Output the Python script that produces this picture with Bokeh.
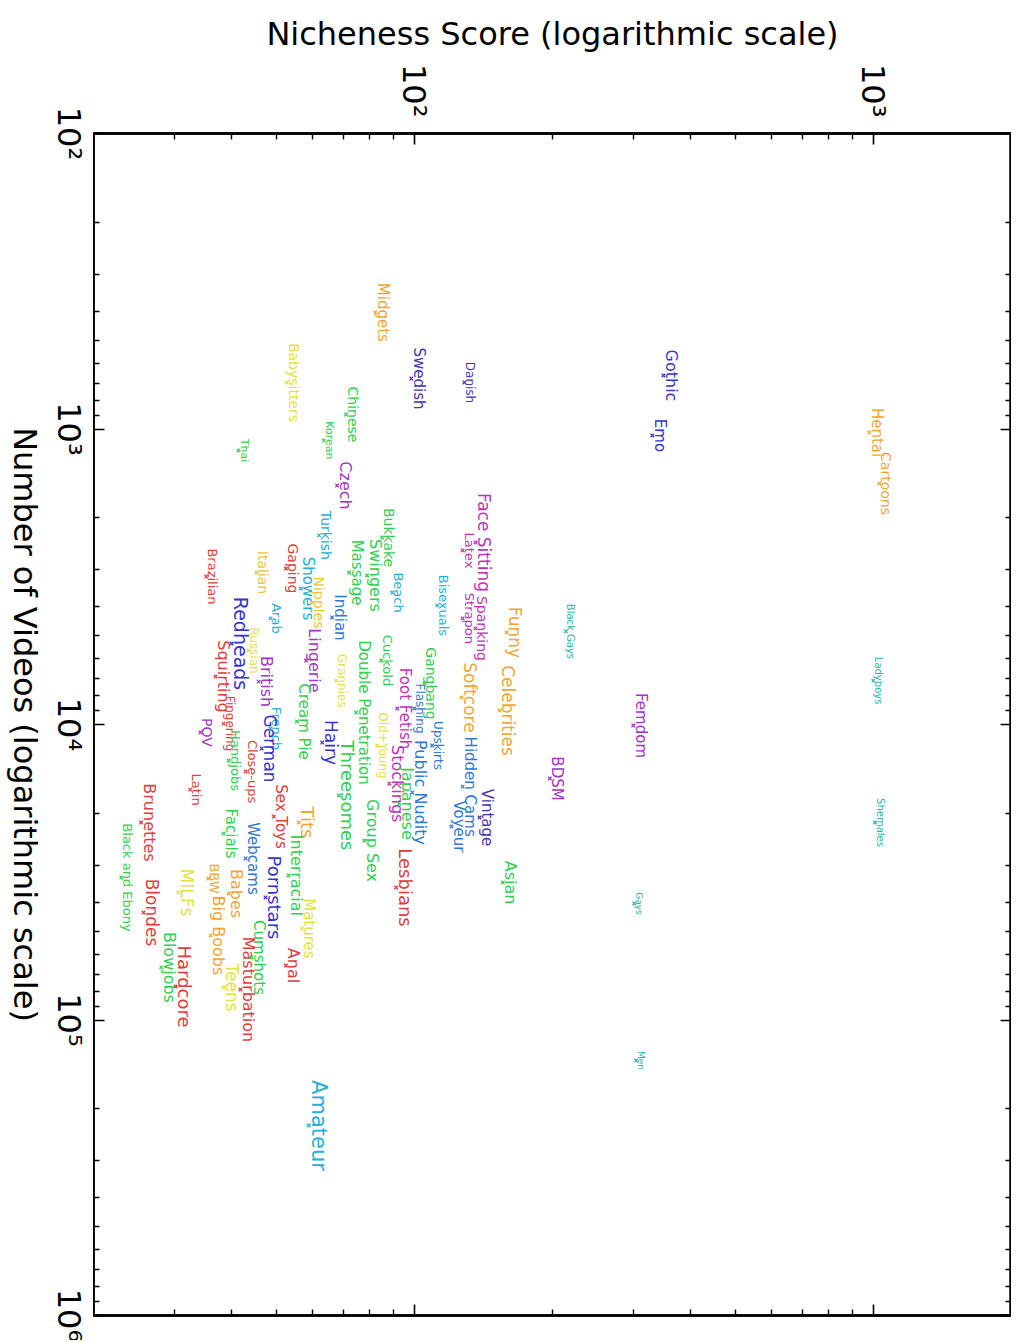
import math
from bokeh.plotting import figure
from bokeh.layouts import row
from bokeh.models import ColumnDataSource, Range1d, LogAxis, FixedTicker, CustomJSTickFormatter
from bokeh.core.properties import value
from bokeh.embed import file_html
from bokeh.resources import INLINE

# ---------------- data ----------------
categories = ["Hentai", "Cartoons", "Ladyboys", "Shemales", "Gothic", "Emo", "Danish", "Swedish",
              "Midgets", "Babysitters", "Chinese", "Korean", "Thai", "Czech", "Turkish", "Bukkake",
              "Gaping", "Italian", "Brazilian", "Showers", "Nipples", "Arab", "Redheads", "Lingerie",
              "Russian", "British", "Cream Pie", "Squirting", "French", "Fingering", "German", "Hairy",
              "POV", "Handjobs", "Close-ups", "Latin", "Sex Toys", "Tits", "Interracial", "Facials",
              "Webcams", "Pornstars", "Brunettes", "Black and Ebony", "Blondes", "BBW", "Big Boobs", "Babes",
              "MILFs", "Cumshots", "Masturbation", "Matures", "Anal", "Teens", "Blowjobs", "Hardcore",
              "Face Sitting", "Spanking", "Latex", "Strapon", "Bisexuals", "Beach", "Swingers", "Massage",
              "Indian", "Cuckold", "Double Penetration", "Grannies", "Gangbang", "Flashing", "Public Nudity", "Softcore",
              "Funny", "Celebrities", "Foot Fetish", "Old+Young", "Upskirts", "Hidden Cams", "Threesomes", "Stockings",
              "Japanese", "Vintage", "Voyeur", "Group Sex", "Lesbians", "Asian", "BDSM", "Femdom",
              "Black Gays", "Gays", "Men", "Amateur"]

nicheness = [980, 1031, 1000, 1009, 349, 330, 128.6, 98.5,
             82.2, 52.7, 71.0, 63.5, 41.4, 67.9, 62.0, 85.1,
             52.5, 45.3, 35.2, 56.6, 59.8, 48.6, 40.0, 58.1,
             43.5, 45.8, 55.5, 36.9, 48.6, 38.4, 46.5, 63.0,
             34.2, 39.4, 42.9, 32.5, 49.4, 56.0, 53.2, 38.4,
             42.9, 47.4, 25.4, 23.0, 25.7, 35.6, 36.0, 39.4,
             30.6, 44.2, 41.8, 56.9, 52.5, 38.4, 28.1, 30.2,
             135.9, 135.9, 127.4, 127.4, 112.2, 89.5, 78.9, 72.1,
             66.2, 84.7, 74.7, 67.5, 105.2, 100.0, 99.0, 126.7,
             158.9, 153.5, 91.8, 83.0, 109.4, 127.4, 68.5, 88.2,
             92.7, 138.7, 120.5, 77.8, 91.3, 155.9, 197.3, 300.0,
             213.9, 301.5, 304.5, 58.9]

videos = [1028, 1529, 7103, 21460, 659, 1052, 696, 675,
          403, 696, 893, 1093, 1183, 1553, 2291, 2330,
          2965, 3060, 3155, 3465, 3864, 4375, 5321, 6072,
          5620, 7160, 9770, 6880, 10320, 9930, 12060, 11510,
          10640, 13240, 14430, 16610, 20480, 21460, 32420, 23390,
          28400, 38480, 21460, 32940, 43270, 33200, 51740, 37320,
          37000, 61430, 78830, 48990, 65400, 77630, 66390, 77040,
          2421, 4730, 2576, 4375, 3954, 3577, 3131, 3060,
          4342, 6072, 9105, 7103, 7265, 8829, 16980, 8103,
          4882, 8966, 8829, 11780, 11780, 16230, 17390, 15860,
          18500, 20640, 22140, 24710, 35620, 34260, 15230, 10080,
          4841, 40330, 137100, 227500]

x_major = [100, 1000]
x_minor = [20, 30, 40, 50, 60, 70, 80, 90, 200, 300, 400, 500, 600, 700, 800, 900]
y_major = [1e2, 1e3, 1e4, 1e5, 1e6]
y_minor = [m * 10 ** e for e in range(2, 6) for m in range(2, 10)]
y_tick_labels = ["10\u00b2", "10\u00b3", "10\u2074", "10\u2075", "10\u2076"]
y_title = "Number of Videos (logarithmic scale)"

# ---------------- styles ----------------
OR = "#f2a632"
YO = "#f0c438"
YE = "#e4e23c"
GR = "#2fcf4f"
CY = "#25aed6"
AZ = "#2f78d8"
BL = "#3434cc"
IN = "#4a32b8"
PU = "#a236c4"
MA = "#c131b6"
RE = "#e23c3c"
TE = "#22b8aa"

label_colors = [OR, OR, TE, TE, BL, BL, IN, IN,
                OR, YE, GR, GR, GR, PU, CY, GR,
                RE, YO, RE, CY, YO, CY, BL, PU,
                YE, PU, GR, RE, CY, RE, BL, BL,
                PU, GR, RE, RE, RE, OR, GR, GR,
                AZ, BL, RE, GR, RE, OR, OR, OR,
                YE, GR, RE, YE, RE, YE, GR, RE,
                MA, MA, MA, MA, CY, CY, GR, GR,
                AZ, GR, GR, YE, GR, AZ, AZ, OR,
                OR, OR, MA, YE, AZ, AZ, GR, MA,
                GR, IN, AZ, GR, RE, GR, PU, PU,
                TE, TE, TE, CY]

label_px = [15, 14, 10, 10, 16, 15, 12, 15,
            15, 14, 14, 11, 11, 16, 14, 14,
            14, 14, 13, 15, 14, 13, 19, 16,
            12, 16, 15, 16, 13, 12, 17, 17,
            14, 13, 13, 13, 15, 18, 16, 15,
            15, 18, 16, 13, 17, 13, 16, 16,
            17, 15, 16, 15, 16, 17, 16, 18,
            17, 14, 13, 13, 13, 13, 16, 15,
            15, 13, 15, 12, 14, 12, 16, 17,
            17, 17, 15, 12, 12, 15, 18, 16,
            16, 15, 15, 16, 18, 16, 15, 15,
            10, 9, 9, 21]

FONT = "DejaVu Sans"

# layout (pixels)
H = 1340
LEFT_W = 93
MAIN_W = 918
FRAME_TOP = 133
FRAME_BOTTOM = 1315
DECADE_PX = (FRAME_BOTTOM - FRAME_TOP) / 4.0

src = ColumnDataSource(dict(
    n=nicheness, v=videos, label=categories, color=label_colors,
    fs=[f"{s}px" for s in label_px],
    xoff=[0.5 * s for s in label_px],
))

p = figure(width=MAIN_W, height=H,
           x_axis_type="log", y_axis_type="log",
           x_range=Range1d(20, 2000), y_range=Range1d(1e6, 1e2),
           x_axis_location="above", y_axis_location="left",
           output_backend="svg", toolbar_location=None,
           min_border_left=0, min_border_right=0, min_border_top=FRAME_TOP,
           min_border_bottom=H - FRAME_BOTTOM,
           background_fill_color="white", border_fill_color="white")
p.frame_align = False

p.xgrid.visible = False
p.ygrid.visible = False
p.outline_line_color = "black"
p.outline_line_width = 2.5
p.outline_line_alpha = 1.0

sup_js = """
const sup = {"0":"\u2070","1":"\u00b9","2":"\u00b2","3":"\u00b3","4":"\u2074",
             "5":"\u2075","6":"\u2076","7":"\u2077","8":"\u2078","9":"\u2079","-":"\u207b"};
const e = Math.round(Math.log10(tick));
return "10" + String(e).split("").map(c => sup[c]).join("");
"""


def style_axis(ax, major, minor):
    ax.ticker = FixedTicker(ticks=major, minor_ticks=minor)
    ax.formatter = CustomJSTickFormatter(code=sup_js)
    ax.major_tick_in = 11
    ax.major_tick_out = 0
    ax.minor_tick_in = 6
    ax.minor_tick_out = 0
    ax.major_tick_line_width = 1.6
    ax.minor_tick_line_width = 1.4
    ax.axis_line_width = 2.5
    ax.axis_line_color = "black"
    ax.major_label_text_font = FONT
    ax.major_label_text_font_size = "32px"
    ax.major_label_text_color = "black"
    ax.axis_label_text_font = FONT
    ax.axis_label_text_font_size = "32px"
    ax.axis_label_text_font_style = "normal"
    ax.axis_label_text_color = "black"


def blank_labels(ax):
    ax.formatter = CustomJSTickFormatter(code="return '';")
    ax.major_label_text_font_size = "1px"
    ax.major_label_standoff = 0
    ax.axis_label_standoff = 0


xa = p.xaxis[0]
style_axis(xa, x_major, x_minor)
xa.axis_label = "Nicheness Score (logarithmic scale)"
xa.major_label_orientation = -math.pi / 2
xa.major_label_standoff = 16
xa.axis_label_standoff = 8

ya = p.yaxis[0]
style_axis(ya, y_major, y_minor)
blank_labels(ya)

for loc, major, minor in (("right", y_major, y_minor), ("below", x_major, x_minor)):
    ax = LogAxis()
    style_axis(ax, major, minor)
    blank_labels(ax)
    p.add_layout(ax, loc)

p.text(x="n", y="v", text="label", source=src, angle=-math.pi / 2,
       x_offset="xoff",
       text_align="center", text_baseline="alphabetic",
       text_font=value(FONT), text_font_size="fs", text_color="color")
p.scatter(x="n", y="v", source=src, marker="x", size=5, line_color="color", line_width=1.2)

# left strip: rotated (top-to-bottom) tick labels and title of the video axis,
# on the same log scale as the main frame
lo = 10 ** (6 + (H - FRAME_BOTTOM) / DECADE_PX)
hi = 10 ** (2 - FRAME_TOP / DECADE_PX)
left = figure(width=LEFT_W, height=H, x_range=Range1d(0, LEFT_W), y_range=Range1d(lo, hi),
              y_axis_type="log", x_axis_location=None, y_axis_location=None,
              output_backend="svg", toolbar_location=None,
              min_border_left=0, min_border_right=0, min_border_top=0, min_border_bottom=0,
              background_fill_color="white", border_fill_color="white")
left.frame_align = False
left.outline_line_color = None
left.xgrid.visible = False
left.ygrid.visible = False
tick_src = ColumnDataSource(dict(x=[LEFT_W - 6] * len(y_major), y=y_major, t=y_tick_labels))
left.text(x="x", y="y", text="t", source=tick_src, angle=-math.pi / 2,
          text_align="center", text_baseline="top",
          text_font=value(FONT), text_font_size="32px", text_color="black")
left.text(x=[24], y=[1e4], text=[y_title], angle=-math.pi / 2,
          text_align="center", text_baseline="middle",
          text_font=value(FONT), text_font_size="32px", text_color="black")

layout = row(left, p, spacing=0)
open("out.html", "w").write(file_html(layout, INLINE))
